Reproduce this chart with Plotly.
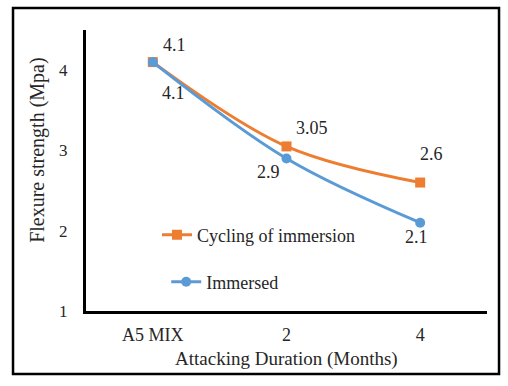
import plotly.graph_objects as go

categories = ["A5 MIX", "2", "4"]
cycling = [4.1, 3.05, 2.6]
immersed = [4.1, 2.9, 2.1]
cycling_labels = ["4.1", "3.05", "2.6"]
immersed_labels = ["4.1", "2.9", "2.1"]
y_ticks = [1, 2, 3, 4]

# label offsets (pixels) -- style only
cycling_shift = [(22, 17), (25, 18), (11, 29)]
immersed_shift = [(21, -31), (-18, -14), (-4, -14)]

FONT = "Liberation Serif, Times New Roman, serif"
ORANGE = "#ED7D31"
BLUE = "#5B9BD5"
TXT = "#262626"

fig = go.Figure()
fig.add_trace(go.Scatter(
    x=categories, y=cycling, name="Cycling of immersion",
    mode="lines+markers", line=dict(color=ORANGE, width=3, shape="spline"),
    marker=dict(symbol="square", size=10, color=ORANGE),
    legend="legend",
))
fig.add_trace(go.Scatter(
    x=categories, y=immersed, name="Immersed",
    mode="lines+markers", line=dict(color=BLUE, width=3, shape="spline"),
    marker=dict(symbol="circle", size=10, color=BLUE),
    legend="legend2",
))

annotations = []
for ys, labs, shifts in [(cycling, cycling_labels, cycling_shift),
                         (immersed, immersed_labels, immersed_shift)]:
    for i, (yv, lab, (dx, dy)) in enumerate(zip(ys, labs, shifts)):
        annotations.append(dict(x=i, y=yv, xref="x", yref="y", text=lab,
                                showarrow=False, xshift=dx, yshift=dy,
                                font=dict(family=FONT, size=18, color=TXT)))

annotations.append(dict(text="Attacking Duration (Months)", xref="paper", yref="paper",
                        x=0.499, y=-0.172, xanchor="center", yanchor="middle",
                        showarrow=False, font=dict(family=FONT, size=19, color=TXT)))
annotations.append(dict(text="Flexure strength (Mpa)", xref="paper", yref="paper",
                        x=-0.12, y=0.573, xanchor="center", yanchor="middle",
                        textangle=-90, showarrow=False,
                        font=dict(family=FONT, size=20, color=TXT)))

fig.update_layout(
    width=508, height=386,
    margin=dict(l=86, r=21, t=30, b=75),
    paper_bgcolor="white", plot_bgcolor="white",
    font=dict(family=FONT, size=17, color=TXT),
    showlegend=True,
    legend=dict(x=0.177, y=0.27, xanchor="left", yanchor="middle",
                bgcolor="rgba(0,0,0,0)", font=dict(family=FONT, size=18, color=TXT)),
    legend2=dict(x=0.2, y=0.103, xanchor="left", yanchor="middle",
                 bgcolor="rgba(0,0,0,0)", font=dict(family=FONT, size=18, color=TXT)),
    xaxis=dict(type="category", range=[-0.5, 2.5], showline=True, linecolor="black",
               linewidth=3, showgrid=False, ticks="", ticklabelstandoff=5,
               tickfont=dict(family=FONT, size=18, color=TXT), automargin=False),
    yaxis=dict(range=[1, 4.5], tickvals=y_ticks, showline=True, linecolor="black",
               linewidth=3, showgrid=False, ticks="", zeroline=False,
               ticklabelstandoff=12, automargin=False,
               tickfont=dict(family=FONT, size=17, color=TXT)),
    annotations=annotations,
    shapes=[dict(type="rect", xref="paper", yref="paper",
                 x0=-0.182, x1=1.03, y0=-0.224, y1=1.078,
                 line=dict(color="black", width=2.5), layer="above")],
)

fig.write_html("out.html", config={"displayModeBar": False},
               post_script="document.body.style.margin='0';")
